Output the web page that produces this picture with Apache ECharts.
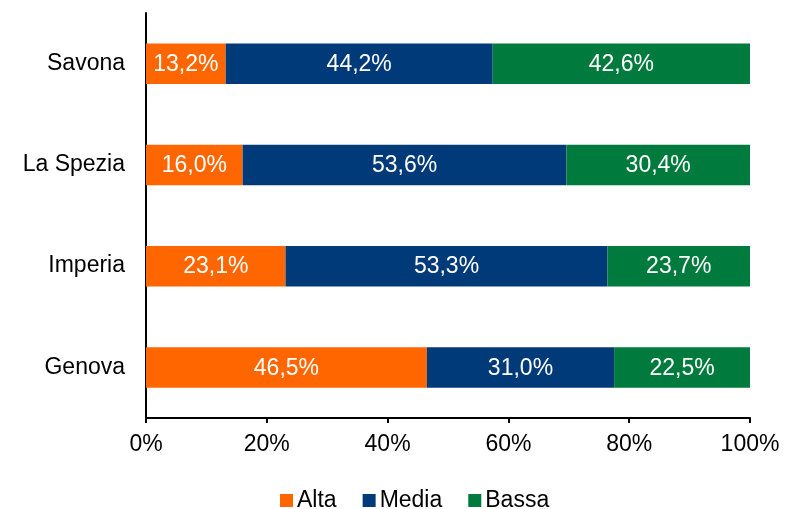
<!DOCTYPE html>
<html>
<head>
<meta charset="utf-8">
<script src="https://cdn.jsdelivr.net/npm/echarts@6/dist/echarts.min.js"></script>
<style>
  html, body { margin: 0; padding: 0; background: #fff; }
  #chart { width: 785px; height: 509px; }
</style>
</head>
<body>
<div id="chart"></div>
<script>
const categories = ['Genova', 'Imperia', 'La Spezia', 'Savona'];
const alta = [46.5, 23.1, 16.0, 13.2];
const media = [31.0, 53.3, 53.6, 44.2];
const bassa = [22.5, 23.7, 30.4, 42.6];
const xTicks = [0, 20, 40, 60, 80, 100];

const chart = echarts.init(document.getElementById('chart'));
const font = 'Liberation Sans, Arial, sans-serif';

const fmt = v => v.toFixed(1).replace('.', ',') + '%';

function series(name, data, color) {
  return {
    name: name,
    type: 'bar',
    stack: 'tot',
    data: data,
    barWidth: '40%',
    itemStyle: { color: color },
    label: {
      show: true,
      color: '#fff',
      fontFamily: font,
      fontSize: 23,
      offset: [0, 1],
      formatter: p => fmt(p.value)
    }
  };
}

chart.setOption({
  animation: false,
  grid: { left: 146, right: 35, top: 13, bottom: 91, containLabel: false },
  legend: {
    top: 484,
    left: 275,
    itemWidth: 13,
    itemHeight: 13,
    itemGap: 26,
    icon: 'rect',
    textStyle: { fontFamily: font, fontSize: 23, color: '#000', padding: [0, 0, 0, -1] },
    data: ['Alta', 'Media', 'Bassa']
  },
  xAxis: {
    type: 'value',
    min: 0,
    max: 100,
    interval: 20,
    splitLine: { show: false },
    axisLine: { show: true, lineStyle: { color: '#000', width: 2 } },
    axisTick: { show: true, length: 5, lineStyle: { color: '#000', width: 2 } },
    axisLabel: {
      color: '#000',
      fontFamily: font,
      fontSize: 23,
      margin: 15,
      formatter: v => xTicks.includes(v) ? v + '%' : ''
    }
  },
  yAxis: {
    type: 'category',
    data: categories,
    axisLine: { show: true, lineStyle: { color: '#000', width: 2 } },
    axisTick: { show: false },
    axisLabel: { color: '#000', fontFamily: font, fontSize: 23, margin: 21, padding: [2, 0, 0, 0] }
  },
  series: [
    series('Alta', alta, '#FF6600'),
    series('Media', media, '#003A78'),
    series('Bassa', bassa, '#007A3D')
  ]
});
</script>
</body>
</html>
